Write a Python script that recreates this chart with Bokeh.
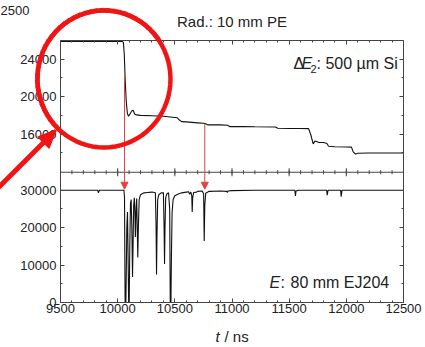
import numpy as np
from bokeh.plotting import figure
from bokeh.models import (Range1d, LinearAxis, FixedTicker, Span, Label, Arrow,
                          NormalHead, PolyAnnotation)
from bokeh.embed import file_html
from bokeh.resources import INLINE

# ---------------- data ----------------
# top panel: Delta E2 (500 um Si) signal
top_t = [9500, 10040, 10050, 10058, 10065, 10075, 10085, 10095, 10110, 10125, 10136,
         10148, 10165, 10200, 10300, 10400, 10440, 10480, 10520, 10540, 10560, 10600,
         10700, 10750, 10770, 10790, 10900, 10960, 10980, 11100, 11200, 11380, 11400,
         11500, 11600, 11670, 11690, 11710, 11725, 11740, 11760, 11800, 11830, 11845,
         11900, 12000, 12045, 12060, 12080, 12100, 12200, 12300, 12400, 12500]
top_v = [25900, 25900, 25800, 24500, 22000, 19500, 18200, 17900, 18200, 18500, 18550,
         18150, 18050, 18000, 17950, 17900, 17850, 17800, 17750, 17500, 17330, 17300,
         17200, 17150, 17100, 16980, 16980, 16950, 16800, 16800, 16780, 16760, 16620,
         16600, 16600, 16580, 15900, 14950, 15250, 15200, 15100, 15100, 15000, 14700,
         14650, 14620, 14600, 14100, 13870, 13950, 13980, 13970, 13980, 13970]

# bottom panel: E (80 mm EJ204) signal
bot_t = [9500, 9825, 9832, 9840, 10055, 10060, 10065, 10072, 10080, 10086, 10092,
         10096, 10101, 10106, 10112, 10118, 10124, 10130, 10134, 10140, 10146, 10150,
         10155, 10160, 10166, 10170, 10176, 10181, 10188, 10200, 10230, 10260, 10300,
         10330, 10336, 10340, 10344, 10350, 10360, 10380, 10400, 10406, 10410, 10414,
         10420, 10430, 10445, 10455, 10460, 10466, 10470, 10476, 10485, 10500, 10530,
         10560, 10600, 10620, 10630, 10640, 10648, 10652, 10656, 10665, 10690, 10700,
         10740, 10752, 10757, 10762, 10770, 10800, 10900, 10955, 10960, 10965, 11000,
         11200, 11550, 11555, 11560, 11580, 11828, 11833, 11840, 11950, 11955, 11962,
         12500]
bot_v = [30000, 30000, 29300, 30000, 30000, 28000, 0, 0, 20000, 24200, 10000,
         0, 0, 15000, 26500, 27500, 20000, 6800, 14000, 26000, 28000, 25000,
         17500, 24000, 27800, 22000, 12000, 20000, 27500, 28800, 29300, 29400, 29500,
         29300, 20000, 7500, 18000, 27500, 28800, 29300, 29300, 20000, 10300, 20000,
         28000, 29000, 29300, 25000, 0, 0, 12000, 24000, 27500, 28500, 29000,
         29300, 29500, 29600, 28900, 29500, 28500, 24200, 28000, 29400, 29500, 29700,
         29800, 29000, 16450, 26000, 29200, 29700, 29800, 29700, 29400, 29800, 29900,
         30000, 30000, 28500, 29800, 30000, 30000, 28700, 30000, 30000, 28300, 30000,
         30000]

x_ticks = [9500, 10000, 10500, 11000, 11500, 12000, 12500]
x_minor = list(range(9500, 12501, 100))
bot_ticks = [0, 10000, 20000, 30000]
bot_minor = [5000, 15000, 25000]
top_ticks = [16000, 20000, 24000]
top_minor = [14000, 18000, 22000]

arrow_t = [10060, 10762]          # red marker arrows (time)
arrow_top_v = [22200, 17100]      # start in top panel
arrow_bot_v = [30000, 30000]      # end in bottom panel

# ---------------- geometry ----------------
W, H = 425, 347
L, R, T, B = 60, 22, 40, 45
FH = H - T - B
FW = W - L - R
MAIN = (0, 70000)
TOP = (-2000, 26000)
BOUNDARY = 34800
UPP = (MAIN[1] - MAIN[0]) / FH           # main units per pixel
TPX = 3000 / FW                          # ns per pixel


def to_main(v):
    return (v - TOP[0]) / (TOP[1] - TOP[0]) * (MAIN[1] - MAIN[0]) + MAIN[0]


def py(ypx):  # canvas pixel y -> main units
    return (T + FH - ypx) * UPP


def px(xpx):  # canvas pixel x -> ns
    return 9500 + (xpx - L) * TPX


FONT = "Liberation Sans"
AX = "#444444"
TXT = "#222222"
RED = "#f01414"
RED2 = "#e0443e"

p = figure(width=W, height=H, output_backend="svg", toolbar_location=None,
           x_range=Range1d(9500, 12500), y_range=Range1d(*MAIN),
           x_axis_type=None, y_axis_type=None,
           min_border_left=L, min_border_right=R, min_border_top=T, min_border_bottom=B)
p.extra_y_ranges = {"top": Range1d(*TOP)}
p.outline_line_color = None
p.background_fill_color = "white"
p.border_fill_color = "white"


def style(ax, labels=True, standoff=4):
    ax.major_tick_in = 4
    ax.major_tick_out = 0
    ax.minor_tick_in = 2
    ax.minor_tick_out = 0
    ax.axis_line_color = AX
    ax.major_tick_line_color = AX
    ax.minor_tick_line_color = AX
    ax.major_label_text_font = FONT
    ax.major_label_standoff = standoff
    if labels:
        ax.major_label_text_font_size = "13px"
        ax.major_label_text_color = TXT
    else:
        ax.major_label_text_font_size = "0px"
        ax.major_label_text_color = None


xb = LinearAxis(ticker=FixedTicker(ticks=x_ticks, minor_ticks=x_minor))
style(xb, True, 1)
p.add_layout(xb, "below")
xa = LinearAxis(ticker=FixedTicker(ticks=x_ticks, minor_ticks=x_minor))
style(xa, False, 0)
p.add_layout(xa, "above")

y_major = bot_ticks + [to_main(v) for v in top_ticks]
y_minor = bot_minor + [to_main(v) for v in top_minor]
overrides = {float(m): str(v) for m, v in zip(y_major, bot_ticks + top_ticks)}
yl = LinearAxis(ticker=FixedTicker(ticks=y_major, minor_ticks=y_minor),
                major_label_overrides=overrides)
style(yl, True, 4)
p.add_layout(yl, "left")
yr = LinearAxis(ticker=FixedTicker(ticks=y_major, minor_ticks=y_minor))
style(yr, False, 0)
p.add_layout(yr, "right")

# panel boundary with crossing ticks
p.add_layout(Span(location=BOUNDARY, dimension="width", line_color=AX, line_width=1))
p.segment(x0=x_ticks, x1=x_ticks, y0=[BOUNDARY - 4 * UPP] * len(x_ticks),
          y1=[BOUNDARY + 4 * UPP] * len(x_ticks), line_color=AX, line_width=1)
p.segment(x0=x_minor, x1=x_minor, y0=[BOUNDARY - 2 * UPP] * len(x_minor),
          y1=[BOUNDARY + 2 * UPP] * len(x_minor), line_color=AX, line_width=1)

# data
p.line(top_t, top_v, y_range_name="top", line_color="#111111", line_width=1.1)
p.line(bot_t, bot_v, line_color="#111111", line_width=1.1)

# thin red arrows
for t, v0, v1 in zip(arrow_t, arrow_top_v, arrow_bot_v):
    p.add_layout(Arrow(end=NormalHead(size=7, fill_color=RED2, line_color=RED2),
                       x_start=t, y_start=to_main(v0), x_end=t, y_end=v1 + 1.0 * UPP,
                       line_color=RED2, line_width=1))

# texts inside the frame
x0 = px(293)
yy = py(63)
p.add_layout(Label(x=x0, y=yy, text="\u0394", text_font=FONT, text_font_size="16px",
                   text_baseline="middle", text_color=TXT))
p.add_layout(Label(x=x0, y=yy, x_offset=8, text="E", text_font=FONT, text_font_size="16px",
                   text_font_style="italic", text_baseline="middle", text_color=TXT))
p.add_layout(Label(x=x0, y=yy, x_offset=17, y_offset=-5, text="2", text_font=FONT,
                   text_font_size="11px", text_baseline="middle", text_color=TXT))
p.add_layout(Label(x=x0, y=yy, x_offset=23, text=": 500 \u00b5m Si", text_font=FONT,
                   text_font_size="16px", text_baseline="middle", text_color=TXT))

x1 = px(269)
y1 = py(282)
p.add_layout(Label(x=x1, y=y1, text="E", text_font=FONT, text_font_size="16px",
                   text_font_style="italic", text_baseline="middle", text_color=TXT))
p.add_layout(Label(x=x1, y=y1, x_offset=11, text=":", text_font=FONT, text_font_size="16px",
                   text_baseline="middle", text_color=TXT))
p.add_layout(Label(x=x1, y=y1, x_offset=21, text="80 mm EJ204", text_font=FONT,
                   text_font_size="16px", text_baseline="middle", text_color=TXT))

# texts outside the frame (placed in side panels so they are not clipped)
p.add_layout(Label(x=(9500 + 12500) / 2, y=py(21), text="Rad.: 10 mm PE",
                   text_align="center", text_baseline="middle", text_font=FONT,
                   text_font_size="15px", text_color=TXT), "above")
p.add_layout(Label(x=px(0), y=py(10), text="2500", text_font=FONT,
                   text_font_size="13px", text_baseline="alphabetic", text_color=TXT), "above")
p.add_layout(Label(x=px(215), y=py(336), text="t", text_font=FONT, text_font_size="15px",
                   text_font_style="italic", text_baseline="middle", text_color=TXT), "right")
p.add_layout(Label(x=px(224), y=py(336), text="/ ns", text_font=FONT,
                   text_font_size="15px", text_baseline="middle", text_color=TXT), "below")


# ---- red highlight (circle + thick arrow), partly outside the plot frame ----
def outside_stroke(s, e, w, ext):
    """red stroke from s to e (canvas px) that may lie outside the frame"""
    s = np.asarray(s, float)
    e = np.asarray(e, float)
    u = (e - s) / np.hypot(*(e - s))
    st = s - u * 0.5
    en = e + u * ext
    size = float(np.hypot(*(en - st))) + 1.0
    p.add_layout(Arrow(end=NormalHead(size=size, fill_alpha=0, line_alpha=0),
                       x_start=px(st[0]), y_start=py(st[1]),
                       x_end=px(en[0]), y_end=py(en[1]),
                       line_color=RED, line_width=w))


def inside(x, y, m=0):
    return L + m <= x <= W - R - m and T + m <= y <= T + FH - m


cx, cy, rx, ry = 103.5, 78.5, 66.5, 68.5
CW = 4.5
ang = np.linspace(0, 2 * np.pi, 73)
vx = cx + rx * np.cos(ang)
vy = cy + ry * np.sin(ang)
# part inside the frame
p.add_layout(PolyAnnotation(xs=[px(v) for v in vx], ys=[py(v) for v in vy],
                            fill_alpha=0, line_color=RED, line_alpha=1, line_width=CW))
# part outside the frame
for k in range(len(ang) - 1):
    if not (inside(vx[k], vy[k], 3) and inside(vx[k + 1], vy[k + 1], 3)):
        outside_stroke((vx[k], vy[k]), (vx[k + 1], vy[k + 1]), CW, CW + 1)

tail = np.array([-3.0, 188.0])
tip = np.array([55.0, 130.0])
u = (tip - tail) / np.hypot(*(tip - tail))
nrm = np.array([-u[1], u[0]])
HL, HW = 17.0, 15.0
base = tip - u * HL
outside_stroke(tail, tip - u * 8, 5, 0)
for f in np.linspace(-0.5, 0.5, 13):
    outside_stroke(base + nrm * (HW * f), tip, 2, 0)

open("out.html", "w").write(file_html(p, INLINE))
